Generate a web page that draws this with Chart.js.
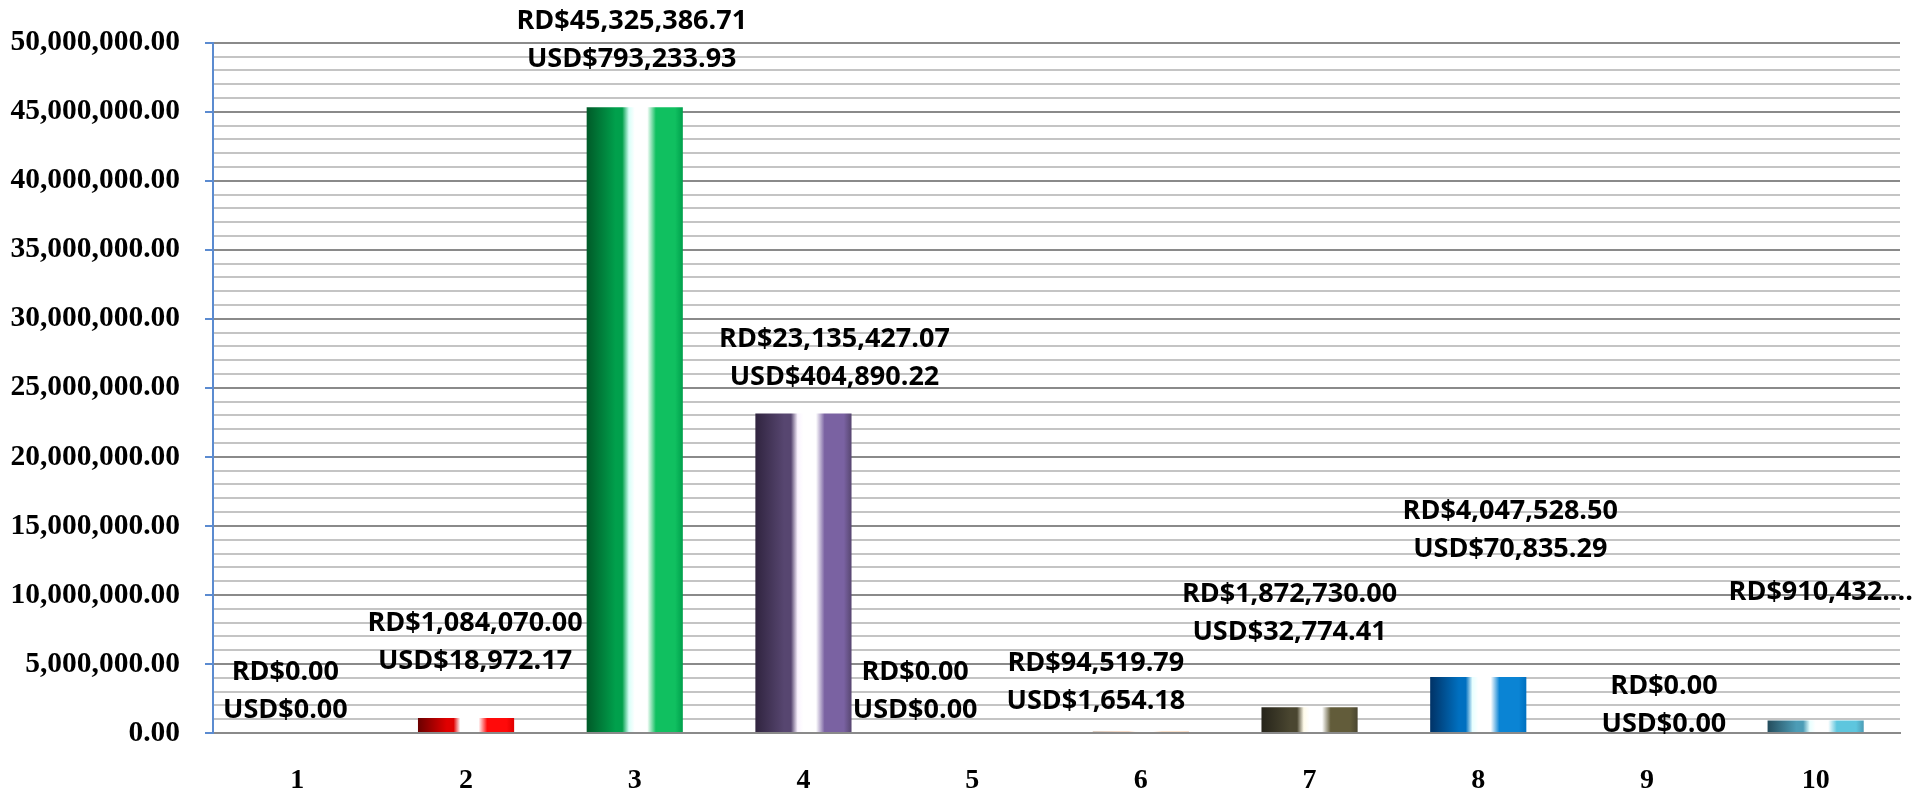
<!DOCTYPE html>
<html>
<head>
<meta charset="utf-8">
<script src="https://cdn.jsdelivr.net/npm/chart.js@4.4.1/dist/chart.umd.min.js"></script>
<style>
  html, body { margin: 0; padding: 0; background: #fff; overflow: hidden; }
  #wrap { position: absolute; left: 0; top: 0; width: 1917px; height: 812px; }
</style>
</head>
<body>
<div id="wrap"><canvas id="myChart"></canvas></div>
<script>
// data
const categories = ["1", "2", "3", "4", "5", "6", "7", "8", "9", "10"];
const rdValues = [0, 1084070.00, 45325386.71, 23135427.07, 0, 94519.79, 1872730.00, 4047528.50, 0, 910432.39];
const usdValues = [0, 18972.17, 793233.93, 404890.22, 0, 1654.18, 32774.41, 70835.29, 0, 15933.40];
const yMax = 50000000;
const yStep = 1000000;
const yMajor = 5000000;

// style: [dark, mid, highlight, right] per bar
const barColors = [
  ["#5a0000", "#d00000", "#ffe8e8", "#ff1010"],
  ["#6a0000", "#e00000", "#ffffff", "#ff0a0a"],
  ["#005a28", "#00a04c", "#d8fff8", "#10c060"],
  ["#30243f", "#574670", "#fbf4ff", "#7a62a2"],
  ["#5a2a00", "#d06010", "#fff0e0", "#f08020"],
  ["#6a3000", "#e07020", "#fff0e0", "#f08a30"],
  ["#26241a", "#4a4630", "#fffbea", "#625c3a"],
  ["#003266", "#0070c0", "#e8ffff", "#0a84d4"],
  ["#003266", "#0070c0", "#e8ffff", "#0a84d4"],
  ["#244c5c", "#4c9cb6", "#e8ffff", "#5ec6de"],
];
// label offsets from bar top/center (manually placed in the original)
const labelShift = [
  [-12, -23], [9, -57], [-3, -48], [31, -36], [-57, -23],
  [-45, -30], [-20, -75], [32, -128], [17, -9], [10, -90],
];
const barPct = 0.57;

const fmt = (v) => v.toLocaleString("en-US", { minimumFractionDigits: 2, maximumFractionDigits: 2 });

function barFill(c) {
  const chart = c.chart;
  const cols = barColors[c.dataIndex];
  const xs = chart.scales.x;
  if (!xs || !chart.chartArea) return cols[1];
  const cx = xs.getPixelForValue(c.dataIndex);
  const w = (xs.width / categories.length) * barPct;
  const g = chart.ctx.createLinearGradient(cx - w / 2, 0, cx + w / 2, 0);
  g.addColorStop(0, cols[0]);
  g.addColorStop(0.3, cols[1]);
  g.addColorStop(0.37, cols[1]);
  g.addColorStop(0.44, cols[2]);
  g.addColorStop(0.5, "#ffffff");
  g.addColorStop(0.63, "#ffffff");
  g.addColorStop(0.72, cols[3]);
  g.addColorStop(0.92, cols[3]);
  g.addColorStop(1, cols[1]);
  return g;
}

// two-line value labels
const valueLabels = {
  id: "valueLabels",
  afterDatasetsDraw(chart) {
    const { ctx } = chart;
    const meta = chart.getDatasetMeta(0);
    ctx.save();
    ctx.font = "bold 27px 'Open Sans'";
    ctx.fillStyle = "#000";
    ctx.textBaseline = "middle";
    meta.data.forEach((bar, i) => {
      const x = bar.x + labelShift[i][0];
      const y = bar.y + labelShift[i][1];
      const l1 = "RD$" + fmt(rdValues[i]);
      const l2 = "USD$" + fmt(usdValues[i]);
      const w = Math.max(ctx.measureText(l1).width, ctx.measureText(l2).width);
      const left = x - w / 2;
      if (left + w > chart.width) {
        // too wide: excel cuts it down to one line
        let t = l1;
        while (t.length > 1 && ctx.measureText(t + "....").width > chart.width - left) t = t.slice(0, -1);
        ctx.textAlign = "left";
        ctx.fillText(t + "....", left, y - 38);
        return;
      }
      ctx.textAlign = "center";
      ctx.fillText(l1, x, y - 38);
      ctx.fillText(l2, x, y);
    });
    ctx.restore();
  },
};

const data = {
  labels: categories,
  datasets: [
    {
      data: rdValues,
      backgroundColor: barFill,
      borderWidth: 0,
      barPercentage: barPct,
      categoryPercentage: 1,
    },
  ],
};

const config = {
  type: "bar",
  data,
  options: {
    responsive: true,
    maintainAspectRatio: false,
    animation: false,
    layout: {
      padding: { left: 0, top: 36, right: 17, bottom: 0 },
    },
    scales: {
      x: {
        afterFit: (s) => { s.height = 79; },
        grid: { display: false, drawTicks: false },
        border: { color: "#8a8a8a", width: 2 },
        ticks: {
          padding: 31,
          color: "#000",
          font: { family: "'Liberation Serif'", size: 28, weight: "bold" },
        },
      },
      y: {
        min: 0,
        max: yMax,
        afterFit: (s) => { s.width = 213; },
        border: { color: "#5b8bd0", width: 2 },
        grid: {
          color: (c) => (c.tick && c.tick.value % yMajor === 0 ? "#8a8a8a" : "#c4c4c4"),
          lineWidth: 2,
          tickLength: 8,
          tickColor: (c) => (c.tick && c.tick.value % yMajor === 0 ? "#5b8bd0" : "rgba(0,0,0,0)"),
        },
        ticks: {
          stepSize: yStep,
          autoSkip: false,
          padding: 25,
          color: "#000",
          font: { family: "'Liberation Serif'", size: 29.5, weight: "bold" },
          callback: (v) => (v % yMajor === 0 ? fmt(v) : ""),
        },
      },
    },
    plugins: {
      legend: { display: false },
      tooltip: { enabled: false },
    },
  },
  plugins: [valueLabels],
};

const myChart = new Chart(document.getElementById("myChart"), config);
</script>
</body>
</html>
